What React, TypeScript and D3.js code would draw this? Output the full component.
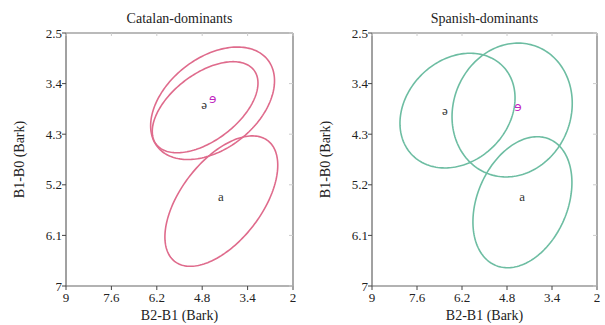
import React from "react";
import * as d3 from "d3";

// vowel categories
const vowels = ["ə", "ɘ", "a"];
const vowelColors = ["#333333", "#c026c0", "#333333"];
const vowelFonts = ["'Liberation Serif', serif", "'DejaVu Sans', sans-serif", "'Liberation Serif', serif"];

// tick labels
const xTicks = [9, 7.6, 6.2, 4.8, 3.4, 2];
const yTicks = [2.5, 3.4, 4.3, 5.2, 6.1, 7];

// Catalan-dominants: means, ellipse centres, spreads, correlation
const catMeanX = [4.74, 4.48, 4.22];
const catMeanY = [3.79, 3.68, 5.42];
const catCx = [4.71, 4.48, 4.21];
const catCy = [3.82, 3.75, 5.49];
const catSx = [1.63, 1.91, 1.74];
const catSy = [0.81, 1.0, 1.16];
const catR = [0.53, 0.4, 0.55];

// Spanish-dominants
const spaMeanX = [6.73, 4.46, 4.33];
const spaMeanY = [3.89, 3.83, 5.42];
const spaCx = [6.34, 4.64, 4.32];
const spaCy = [3.88, 3.87, 5.51];
const spaSx = [1.79, 1.87, 1.54];
const spaSy = [1.02, 1.19, 1.165];
const spaR = [0.22, 0.1, 0.3];

const W = 605;
const H = 325;
const font = "'Liberation Serif', 'Times New Roman', serif";

type PanelProps = {
  title: string;
  left: number;
  right: number;
  color: string;
  meanX: number[];
  meanY: number[];
  cx: number[];
  cy: number[];
  sx: number[];
  sy: number[];
  r: number[];
};

function Panel(p: PanelProps) {
  const top = 33;
  const bottom = 286;
  const x = d3.scaleLinear().domain([9, 2]).range([p.left, p.right]);
  const y = d3.scaleLinear().domain([2.5, 7]).range([top, bottom]);
  const line = d3
    .line<[number, number]>()
    .x((d) => x(d[0]))
    .y((d) => y(d[1]))
    .curve(d3.curveLinearClosed);
  const ts = d3.range(0, 2 * Math.PI, Math.PI / 90);
  const mid = (p.left + p.right) / 2;

  return (
    <g>
      <text x={mid} y={23} textAnchor="middle" fontSize={14} fontFamily={font} fill="#222">
        {p.title}
      </text>
      {/* frame */}
      <line x1={p.left} x2={p.right} y1={top} y2={top} stroke="#777" strokeWidth={1.2} />
      <line x1={p.right} x2={p.right} y1={top} y2={bottom} stroke="#aaa" strokeWidth={2} />
      <line x1={p.left} x2={p.left} y1={top} y2={bottom} stroke="#444" strokeWidth={1} />
      <line x1={p.left} x2={p.right} y1={bottom} y2={bottom} stroke="#666" strokeWidth={1.2} />
      {xTicks.map((t) => (
        <g key={"x" + t}>
          <line x1={x(t)} x2={x(t)} y1={bottom} y2={bottom + 4} stroke="#444" />
          <line x1={x(t)} x2={x(t)} y1={top} y2={top + 3} stroke="#ccc" />
          <text x={x(t)} y={302} textAnchor="middle" fontSize={13} fontFamily={font} fill="#222">
            {t}
          </text>
        </g>
      ))}
      {yTicks.map((t) => (
        <g key={"y" + t}>
          <line x1={p.left - 4} x2={p.left} y1={y(t)} y2={y(t)} stroke="#444" />
          <line x1={p.right - 4} x2={p.right} y1={y(t)} y2={y(t)} stroke="#ccc" />
          <text
            x={p.left - 4}
            y={y(t)}
            dy="0.35em"
            textAnchor="end"
            fontSize={13}
            fontFamily={font}
            fill="#222"
          >
            {t}
          </text>
        </g>
      ))}
      <text x={mid} y={320} textAnchor="middle" fontSize={14} fontFamily={font} fill="#222">
        B2-B1 (Bark)
      </text>
      <text
        transform={`translate(${p.left - 42},${(top + bottom) / 2}) rotate(-90)`}
        textAnchor="middle"
        fontSize={14}
        fontFamily={font}
        fill="#222"
      >
        B1-B0 (Bark)
      </text>
      {/* ellipses */}
      {vowels.map((v, i) => {
        const s = Math.sqrt(1 - p.r[i] * p.r[i]);
        const pts = ts.map(
          (t) =>
            [
              p.cx[i] + p.sx[i] * Math.cos(t),
              p.cy[i] + p.sy[i] * (p.r[i] * Math.cos(t) + s * Math.sin(t)),
            ] as [number, number]
        );
        return (
          <path key={"e" + v} d={line(pts) || ""} fill="none" stroke={p.color} strokeWidth={1.6} />
        );
      })}
      {vowels.map((v, i) => (
        <text
          key={"l" + v}
          x={x(p.meanX[i])}
          y={y(p.meanY[i])}
          dy="0.3em"
          textAnchor="middle"
          fontSize={i === 1 ? 12 : 13}
          fontFamily={vowelFonts[i]}
          fill={vowelColors[i]}
        >
          {v}
        </text>
      ))}
    </g>
  );
}

export default function App() {
  return (
    <svg
      width={W}
      height={H}
      style={{ position: "absolute", left: 0, top: 0, background: "#fff" }}
    >
      <Panel
        title="Catalan-dominants"
        left={66}
        right={293}
        color="#df6b8c"
        meanX={catMeanX}
        meanY={catMeanY}
        cx={catCx}
        cy={catCy}
        sx={catSx}
        sy={catSy}
        r={catR}
      />
      <Panel
        title="Spanish-dominants"
        left={372}
        right={597}
        color="#6dbda2"
        meanX={spaMeanX}
        meanY={spaMeanY}
        cx={spaCx}
        cy={spaCy}
        sx={spaSx}
        sy={spaSy}
        r={spaR}
      />
    </svg>
  );
}
